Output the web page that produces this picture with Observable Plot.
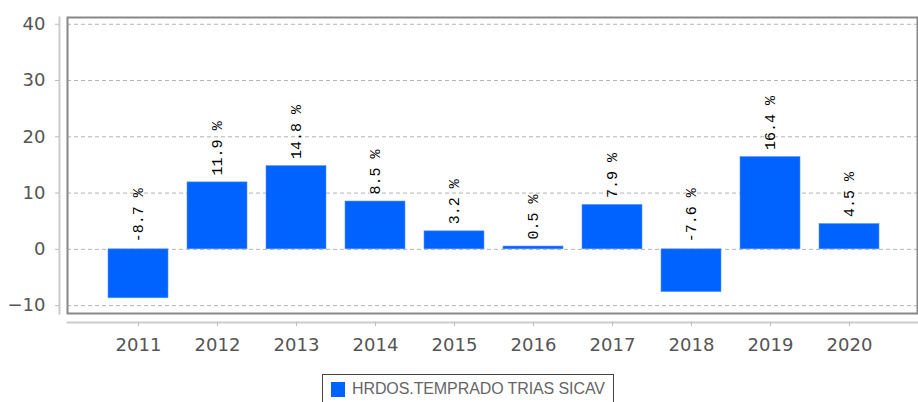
<!DOCTYPE html>
<html>
<head>
<meta charset="utf-8">
<script src="https://cdn.jsdelivr.net/npm/d3@7"></script>
<script src="https://cdn.jsdelivr.net/npm/@observablehq/plot@0.6"></script>
<style>
  body { margin: 0; background: #fff; }
  #wrap { position: relative; width: 918px; height: 402px; overflow: hidden; }
  #legend { position: absolute; left: 322px; top: 374px; width: 292px; height: 40px;
    border: 1.5px solid #444; box-sizing: border-box; background: #fff;
    font-family: "Liberation Sans", Arial, sans-serif; font-size: 16px; color: #666; }
  #legend .sw { position: absolute; left: 8px; top: 7px; width: 14px; height: 15px; background: #0062ff; }
  #legend .lb { position: absolute; left: 29px; top: 5px; white-space: nowrap; letter-spacing: -0.1px; }
</style>
</head>
<body>
<div id="wrap"></div>
<script>
const years = ["2011","2012","2013","2014","2015","2016","2017","2018","2019","2020"];
const values = [-8.7, 11.9, 14.8, 8.5, 3.2, 0.5, 7.9, -7.6, 16.4, 4.5];
const yTicks = [-10, 0, 10, 20, 30, 40];
const seriesName = "HRDOS.TEMPRADO TRIAS SICAV";

const data = years.map((y, i) => ({year: y, v: values[i]}));

const chart = Plot.plot({
  width: 918,
  height: 402,
  marginLeft: 67,
  marginRight: 1,
  marginTop: 17,
  marginBottom: 89,
  style: {fontFamily: "'DejaVu Sans', sans-serif", background: "#fff"},
  x: {domain: years, paddingInner: 0.24, paddingOuter: 0.49, align: 0.52},
  y: {domain: [-11.4, 41.2]},
  marks: [
    Plot.gridY(yTicks, {stroke: "#b4b4b4", strokeOpacity: 1, strokeDasharray: "4,3"}),
    Plot.barY(data, {x: "year", y: "v", fill: "#0062ff", stroke: "#5a96ff", strokeWidth: 0.6}),
    Plot.text(data, {x: "year", y: d => Math.max(d.v, 0), text: d => d.v.toFixed(1) + " %",
      rotate: -90, textAnchor: "start", dy: -7, fontSize: 15, fill: "#000",
      fontFamily: "'Liberation Mono', 'DejaVu Sans Mono', monospace"}),
    Plot.frame({stroke: "#888", strokeWidth: 2}),
    Plot.frame({anchor: "left", dx: -8, stroke: "#ccc", strokeWidth: 2}),
    Plot.frame({anchor: "bottom", dy: 9, stroke: "#ccc", strokeWidth: 2}),
    Plot.axisY(yTicks, {dx: -8, tickSize: 4, tickPadding: 10, fontSize: 18, color: "#555", stroke: "#bbb", label: null}),
    Plot.axisX({dy: 9, tickSize: 4, tickPadding: 12, fontSize: 18, color: "#555", stroke: "#bbb", label: null})
  ]
});
document.getElementById("wrap").appendChild(chart);

const lg = document.createElement("div");
lg.id = "legend";
lg.innerHTML = '<div class="sw"></div><div class="lb"></div>';
lg.querySelector(".lb").textContent = seriesName;
document.getElementById("wrap").appendChild(lg);
</script>
</body>
</html>
